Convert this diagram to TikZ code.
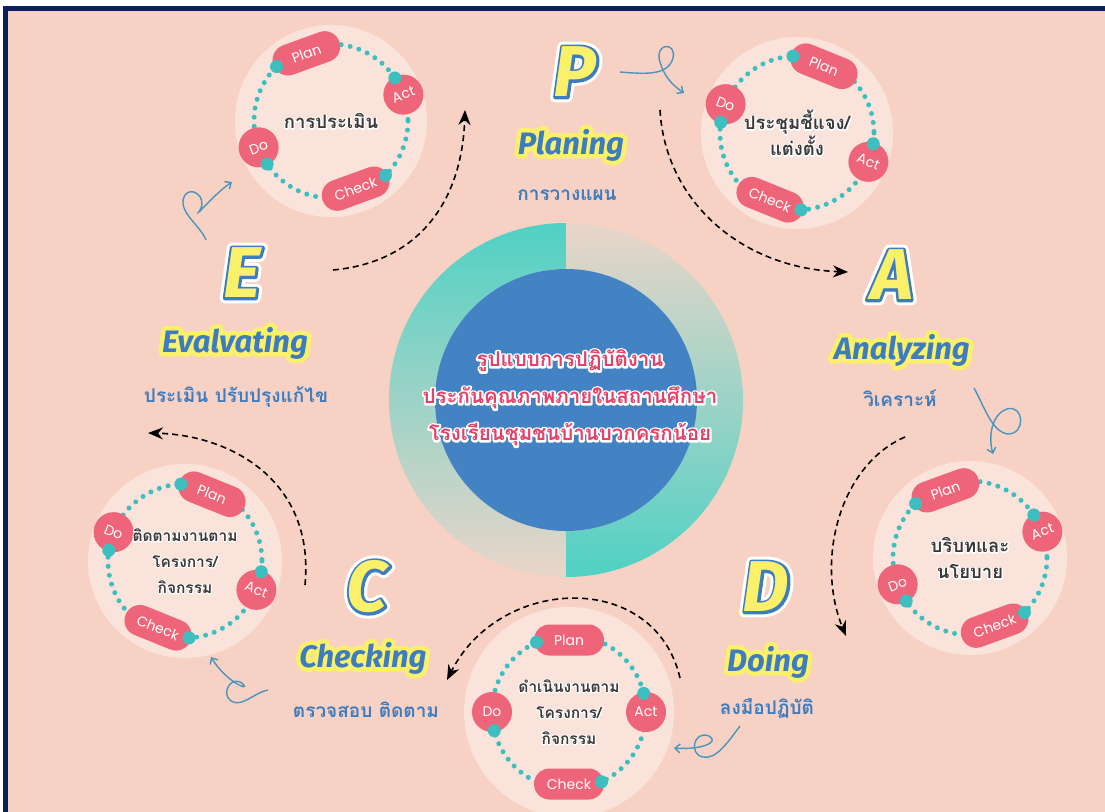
\documentclass[tikz,border=0pt]{standalone}
\usepackage{fontspec}
\setmainfont{Fira Sans}
\newfontfamily\thaifont[Script=Thai]{Loma}
\newfontfamily\pillfont{Poppins}
\usetikzlibrary{arrows.meta}

\definecolor{peach}{HTML}{F7D2C4}
\definecolor{paleblush}{HTML}{FAE3DA}
\definecolor{pillpink}{HTML}{EE6579}
\definecolor{dotteal}{HTML}{3DBFC0}
\definecolor{ringteal}{HTML}{4FD1C4}
\definecolor{ringbeige}{HTML}{EAD5C9}
\definecolor{coreblue}{HTML}{4383C4}
\definecolor{labelblue}{HTML}{3C7CBF}
\definecolor{glowyellow}{HTML}{FBF06A}
\definecolor{framenavy}{HTML}{0A1F5E}
\definecolor{titlepink}{HTML}{E5426A}
\definecolor{loopblue}{HTML}{4A95BD}
\definecolor{inkgray}{HTML}{3A3A3A}

% stroked copy of a text laid under its filled copy
\newcommand\halo[3]{\leavevmode\rlap{\textcolor{#1}{\special{pdf:literal direct 2 Tr #2 w 1 j}#3\special{pdf:literal direct 0 Tr}}}#3}
% big stage letter: white rim, blue rim, yellow fill
\newcommand\capital[1]{\leavevmode\rlap{\textcolor{white}{\special{pdf:literal direct 2 Tr 11 w 1 j}#1\special{pdf:literal direct 0 Tr}}}\rlap{\textcolor{labelblue}{\special{pdf:literal direct 2 Tr 5 w 1 j}#1\special{pdf:literal direct 0 Tr}}}\textcolor{glowyellow}{#1}}
% one line of a three-line task text
\newcommand\smalltask[1]{{\fontsize{15.5}{25}\selectfont\halo{white}{2.2}{#1}}}

\tikzset{
  pill/.style={rectangle, rounded corners=15.5pt, minimum width=70pt, minimum height=31pt, inner sep=0pt, fill=pillpink, text=white, font=\pillfont\fontsize{14}{14}\selectfont},
  roundpill/.style={circle, minimum size=40pt, inner sep=0pt, fill=pillpink, text=white, font=\pillfont\fontsize{14}{14}\selectfont},
  bigdot/.style={circle, minimum size=13pt, inner sep=0pt, fill=dotteal},
  task/.style={align=center, text=inkgray, font=\thaifont\bfseries\fontsize{18.5}{26}\selectfont},
  pics/pdca/.style n args={3}{code={
    \fill[paleblush] (0,0) circle (#3);
    \draw[dotteal, line width=5pt, line cap=round, dash pattern=on 0pt off 9.1pt] (0,0) circle (77);
    \node[pill, rotate=#1] (-plan) at ({-90-(#1)}:72) {Plan};
    \node[roundpill, rotate=#1] (-act) at ({-(#1)}:77) {Act};
    \node[pill, rotate=#1] (-check) at ({90-(#1)}:72) {Check};
    \node[roundpill, rotate=#1] (-do) at ({180-(#1)}:77) {Do};
    \node[bigdot] (-dplan) at ({-115-(#1)}:77) {};
    \node[bigdot] (-dact) at ({-14-(#1)}:77) {};
    \node[bigdot] (-dcheck) at ({65-(#1)}:77) {};
    \node[bigdot] (-ddo) at ({166-(#1)}:77) {};
    \node[task] (-text) at (0,0) {#2};
  }}
}

\begin{document}
\begin{tikzpicture}[x=1pt, y=-1pt,
    flow/.style={-{Stealth[length=15pt,width=12pt]}, dash pattern=on 6pt off 4pt, line width=1.6pt},
    curl/.style={-{Straight Barb[length=5pt,width=9pt]}, loopblue, line width=1.4pt},
    letter/.style={font=\fontsize{72}{72}\selectfont\bfseries\itshape},
    stage/.style={text=labelblue, font=\fontsize{31}{31}\selectfont\bfseries\itshape},
    stagethai/.style={text=labelblue, font=\thaifont\bfseries\fontsize{19}{19}\selectfont}]
  \useasboundingbox (0,0) rectangle (1105,811);
  \clip (0,0) rectangle (1105,811);
  \fill[white] (0,0) rectangle (1105,811);
  \draw[framenavy, line width=5pt, fill=peach] (5.5,8.5) rectangle (1120,830);

  % centre ring and core
  \shade[top color=ringteal, bottom color=ringbeige] (566,577) arc[start angle=90, end angle=270, radius=177] -- (566,269) arc[start angle=270, end angle=90, radius=131] -- cycle;
  \shade[top color=ringbeige, bottom color=ringteal] (566,223) arc[start angle=270, end angle=450, radius=177] -- (566,531) arc[start angle=90, end angle=-90, radius=131] -- cycle;
  \node[circle, fill=coreblue, minimum size=262pt, inner sep=0pt] (core) at (566,400) {};
  \node[align=center, text=titlepink, font=\thaifont\bfseries\fontsize{20.5}{37}\selectfont] (title) at (570,398)
    {\halo{white}{4}{รูปแบบการปฏิบัติงาน}\\\halo{white}{4}{ประกันคุณภาพภายในสถานศึกษา}\\\halo{white}{4}{โรงเรียนชุมชนบ้านบวกครกน้อย}};

  % the five PDCA wheels
  \pic (evalwheel) at (331,121) {pdca={20}{\halo{white}{2.5}{การประเมิน}}{96}};
  \pic (planwheel) at (797,133) {pdca={-22}{\halo{white}{2.5}{ประชุมชี้แจง/}\\\halo{white}{2.5}{แต่งตั้ง}}{96}};
  \pic (analwheel) at (970,558) {pdca={20}{\halo{white}{2.5}{บริบทและ}\\\halo{white}{2.5}{นโยบาย}}{97}};
  \pic (dowheel) at (569,712) {pdca={0}{\smalltask{ดำเนินงานตาม}\\\smalltask{โครงการ/}\\\smalltask{กิจกรรม}}{105}};
  \pic (checkwheel) at (185,561) {pdca={-22}{\smalltask{ติดตามงานตาม}\\\smalltask{โครงการ/}\\\smalltask{กิจกรรม}}{97}};

  % stage labels
  \node[letter] (pletter) at (575,72) {\capital{P}};
  \node[stage] (planing) at (571,145) {\halo{glowyellow}{9}{Planing}};
  \node[stagethai] (planthai) at (567,195) {การวางแผน};

  \node[letter] (aletter) at (892,275) {\capital{A}};
  \node[stage] (analyzing) at (902,350) {\halo{glowyellow}{9}{Analyzing}};
  \node[stagethai] (analthai) at (900,398) {วิเคราะห์};

  \node[letter] (dletter) at (766,587) {\capital{D}};
  \node[stage] (doing) at (768,662) {\halo{glowyellow}{9}{Doing}};
  \node[stagethai] (dothai) at (767,708) {ลงมือปฏิบัติ};

  \node[letter] (cletter) at (367,587) {\capital{C}};
  \node[stage] (checking) at (363,658) {\halo{glowyellow}{9}{Checking}};
  \node[stagethai] (checkthai) at (366,710) {ตรวจสอบ ติดตาม};

  \node[letter] (eletter) at (242,273) {\capital{E}};
  \node[stage] (evalvating) at (235,343) {\halo{glowyellow}{9}{Evalvating}};
  \node[stagethai] (evalthai) at (236,397) {ประเมิน ปรับปรุงแก้ไข};

  % dashed cycle
  \coordinate (pout) at (660,110);
  \coordinate (ain) at (848,272);
  \coordinate (aout) at (905,437);
  \coordinate (din) at (846,636);
  \coordinate (dout) at (680,678);
  \coordinate (cin) at (447,680);
  \coordinate (cout) at (305,585);
  \coordinate (ein) at (148,433);
  \coordinate (eout) at (333,270);
  \coordinate (pin) at (465,110);
  \draw[flow] (pout) .. controls (665,200) and (740,268) .. (ain);
  \draw[flow] (aout) .. controls (840,465) and (815,560) .. (din);
  \draw[flow] (dout) .. controls (655,570) and (500,575) .. (cin);
  \draw[flow] (cout) .. controls (315,480) and (230,435) .. (ein);
  \draw[flow] (eout) .. controls (420,262) and (462,200) .. (pin);

  % small curls
  \coordinate (pcurl) at (620,72);
  \coordinate (pcurlend) at (684,93);
  \coordinate (acurl) at (974,388);
  \coordinate (acurlend) at (993,454);
  \coordinate (dcurl) at (740,726);
  \coordinate (dcurlend) at (674,748);
  \coordinate (ccurl) at (268,690);
  \coordinate (ccurlend) at (211,657);
  \coordinate (ecurl) at (206,240);
  \coordinate (ecurlend) at (232,182);
  \draw[curl] (pcurl) .. controls (645,74) and (668,76) .. (673,58) .. controls (677,42) and (654,42) .. (660,62) .. controls (664,76) and (672,85) .. (pcurlend);
  \draw[curl] (acurl) .. controls (985,408) and (992,432) .. (1008,434) .. controls (1026,434) and (1024,404) .. (1007,409) .. controls (992,414) and (988,436) .. (acurlend);
  \draw[curl] (dcurl) .. controls (728,742) and (716,760) .. (703,757) .. controls (688,754) and (694,730) .. (709,736) .. controls (720,742) and (702,750) .. (dcurlend);
  \draw[curl] (ccurl) .. controls (255,692) and (242,708) .. (231,701) .. controls (220,693) and (232,674) .. (243,684) .. controls (251,692) and (226,682) .. (ccurlend);
  \draw[curl] (ecurl) .. controls (200,225) and (178,212) .. (184,197) .. controls (190,184) and (208,197) .. (200,210) .. controls (193,220) and (214,194) .. (ecurlend);
\end{tikzpicture}
\end{document}
